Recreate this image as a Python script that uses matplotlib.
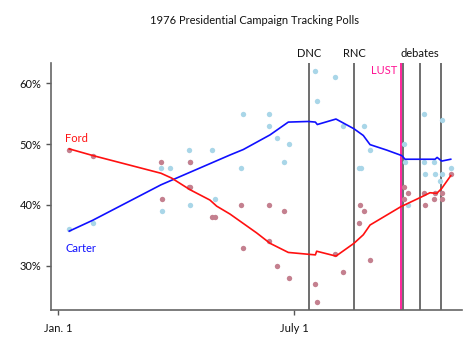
import matplotlib
matplotlib.use("Agg")
import matplotlib.pyplot as plt
import matplotlib.transforms as mtransforms

# ---- data (x = day of year 1976, Jan 1 = 0) ----
carter_days = [8, 27, 80, 79, 86, 101, 102, 102, 119, 121, 141, 143, 163, 163, 169, 174, 178,
               198, 200, 214, 220, 232, 234, 236, 241, 267, 268, 270, 282, 282, 283, 290, 291,
               296, 296, 295, 303]
carter_polls = [36, 37, 39, 46, 46, 49, 47, 40, 49, 41, 46, 55, 55, 53, 51, 47, 50,
                62, 57, 61, 53, 46, 46, 53, 49, 50, 47, 40, 55, 47, 45, 47, 45,
                54, 45, 44, 46]
ford_days = [8, 27, 79, 80, 101, 102, 102, 119, 121, 141, 143, 163, 163, 169, 174, 178,
             198, 200, 214, 220, 232, 233, 236, 241, 267, 267, 270, 282, 283, 290, 291,
             296, 296, 303]
ford_polls = [49, 48, 47, 41, 43, 43, 47, 38, 38, 40, 33, 40, 34, 30, 39, 28,
              27, 24, 32, 29, 37, 40, 39, 31, 43, 41, 42, 42, 40, 41, 42,
              41, 42, 45]

carter_trend_days = [8.5, 26.8, 79.3, 132.6, 142.9, 163.5, 177.6, 193, 198.5, 200, 214.4, 228.3,
                     235.5, 240.7, 253.6, 265.2, 267.7, 279.3, 290.9, 292.5, 296, 303]
carter_trend = [35.7, 37.5, 43.3, 48.2, 49.1, 51.5, 53.6, 53.7, 53.6, 53.2, 54.1, 52.5,
                51.4, 49.9, 49.0, 48.1, 47.5, 47.5, 47.5, 47.8, 47.2, 47.5]
ford_trend_days = [8.5, 26.8, 79.3, 87.6, 101.7, 117.1, 122.3, 132.6, 153.2, 163.5, 177.6, 193,
                   198.5, 199.5, 214.4, 228.3, 235.5, 240.7, 264.4, 279.3, 287, 292.2, 296, 303]
ford_trend = [49.2, 48.1, 45.2, 44.4, 42.5, 40.8, 39.8, 38.5, 35.4, 33.7, 32.2, 31.9,
              31.8, 32.4, 31.6, 33.7, 35.1, 36.7, 39.7, 41.2, 42.0, 41.9, 42.7, 44.8]

event_days = [193.5, 228.5, 266.5, 279.5, 295.5]
event_labels = ["DNC", "RNC", "", "debates", ""]
lust_day = 264.5

ytick_vals = [30, 40, 50, 60]
ytick_labels = ["30%", "40%", "50%", "60%"]
xtick_vals = [0, 182]
xtick_labels = ["Jan. 1", "July 1"]

plt.rcParams['font.family'] = ['Lato', 'DejaVu Sans']

fig = plt.figure(figsize=(4.75, 3.45), dpi=100)
ax = fig.add_axes([51/475, 1 - 310/345, (462 - 51)/475, (310 - 63)/345])

ax.scatter(carter_days, carter_polls, s=15, color='#a9d6e8', zorder=2, linewidths=0)
ax.scatter(ford_days, ford_polls, s=15, color='#c4808f', zorder=2, linewidths=0)

ax.plot(carter_trend_days, carter_trend, color='#1010ff', lw=1.2, zorder=3)
ax.plot(ford_trend_days, ford_trend, color='#ff1010', lw=1.2, zorder=3)

for d in event_days:
    ax.axvline(d, color='#555555', lw=1.2, zorder=1)
ax.axvline(lust_day, color='#ff1493', lw=1.3, zorder=1)

trans = mtransforms.blended_transform_factory(ax.transData, ax.transAxes)
for d, lab in zip(event_days, event_labels):
    if lab:
        ax.text(d, 1.04, lab, transform=trans, ha='center', va='center', fontsize=8, color='#111111')
ax.text(lust_day - 2.5, 0.968, "LUST", transform=trans, ha='right', va='center', fontsize=8,
        color='#ff1493')

ax.text(5.5, 50.9, "Ford", color='#ff1010', fontsize=8, va='center', ha='left')
ax.text(5.5, 32.8, "Carter", color='#1010ff', fontsize=8, va='center', ha='left')

ax.set_xlim(-5.6, 311.7)
ax.set_ylim(22.75, 63.3)
ax.set_yticks(ytick_vals)
ax.set_yticklabels(ytick_labels)
ax.set_xticks(xtick_vals)
ax.set_xticklabels(xtick_labels)
ax.tick_params(axis='both', labelsize=8, length=3.5, width=1, color='#555555', labelcolor='#111111')
ax.tick_params(axis='x', pad=6)

for s in ['top', 'right']:
    ax.spines[s].set_visible(False)
for s in ['left', 'bottom']:
    ax.spines[s].set_color('#666666')
    ax.spines[s].set_linewidth(1.2)

fig.text(254/475, 1 - 20/345, "1976 Presidential Campaign Tracking Polls", ha='center', va='center',
         fontsize=8, color='#111111')

fig.savefig("out.png", dpi=100)
